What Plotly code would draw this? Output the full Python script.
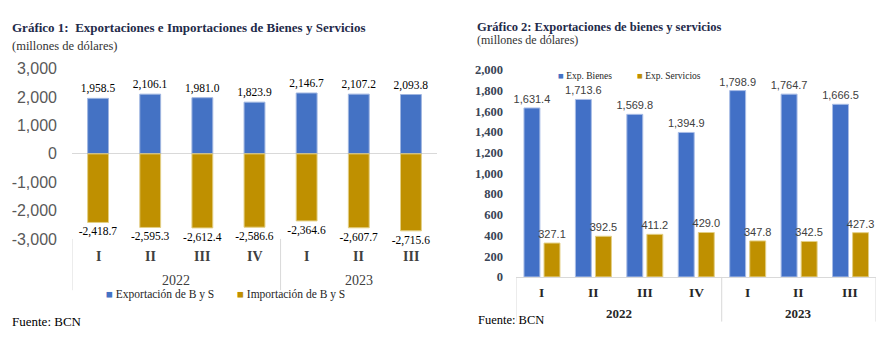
import plotly.graph_objects as go

# ---------------- data ----------------
quarters = ["I", "II", "III", "IV", "I", "II", "III"]
years = ["2022", "2023"]
quarters_per_year = [4, 3]

exports_bs = [1958.5, 2106.1, 1981.0, 1823.9, 2146.7, 2107.2, 2093.8]
imports_bs = [-2418.7, -2595.3, -2612.4, -2586.6, -2364.6, -2607.7, -2715.6]

exp_bienes = [1631.4, 1713.6, 1569.8, 1394.9, 1798.9, 1764.7, 1666.5]
exp_servicios = [327.1, 392.5, 411.2, 429.0, 347.8, 342.5, 427.3]

left_ticks = [-3000, -2000, -1000, 0, 1000, 2000, 3000]
right_ticks = [0, 200, 400, 600, 800, 1000, 1200, 1400, 1600, 1800, 2000]

names_left = ["Exportación de B y S", "Importación de B y S"]
names_right = ["Exp. Bienes", "Exp. Servicios"]

# ---------------- styles ----------------
W, H = 892, 342
BLUE = "#4472C4"
GOLD = "#BF9000"
BLUE_R = "#4270C6"
SERIF = "Liberation Serif"
SANS = "Liberation Sans"
NAVY = "#1f2b4a"


def px(x):
    return x / W


def py(y):
    return 1 - y / H


idx = list(range(len(quarters)))


def fmt(v):
    return f"{v:,.1f}"


fig = go.Figure()

# left chart
fig.add_trace(go.Bar(
    x=idx, y=exports_bs, name=names_left[0], xaxis="x", yaxis="y",
    marker=dict(color=BLUE, line=dict(color="#9fb5e0", width=1)),
    width=0.4, offset=-0.2,
    text=[fmt(v) for v in exports_bs], textposition="outside",
    textfont=dict(family=SERIF, size=11.5, color="#000000"),
    cliponaxis=False, constraintext="none", showlegend=False, hoverinfo="skip",
))
fig.add_trace(go.Bar(
    x=idx, y=imports_bs, name=names_left[1], xaxis="x", yaxis="y",
    marker=dict(color=GOLD, line=dict(color="#e3cf85", width=1)),
    width=0.4, offset=-0.2,
    text=[fmt(v) for v in imports_bs], textposition="outside",
    textfont=dict(family=SERIF, size=11.5, color="#000000"),
    cliponaxis=False, constraintext="none", showlegend=False, hoverinfo="skip",
))

# right chart
fig.add_trace(go.Bar(
    x=idx, y=exp_bienes, name=names_right[0], xaxis="x2", yaxis="y2",
    marker=dict(color=BLUE_R, line=dict(color="#a9bde6", width=1)),
    width=0.31, offset=-0.345,
    text=[fmt(v) for v in exp_bienes], textposition="outside",
    textfont=dict(family=SANS, size=11, color="#404040"),
    cliponaxis=False, constraintext="none", showlegend=False, hoverinfo="skip",
))
fig.add_trace(go.Bar(
    x=idx, y=exp_servicios, name=names_right[1], xaxis="x2", yaxis="y2",
    marker=dict(color=GOLD, line=dict(color="#e3cf85", width=1)),
    width=0.31, offset=0.045,
    text=[fmt(v) for v in exp_servicios], textposition="outside",
    textfont=dict(family=SANS, size=11, color="#404040"),
    cliponaxis=False, constraintext="none", showlegend=False, hoverinfo="skip",
))

annotations = []
shapes = []

# titles
annotations += [
    dict(text="<b>Gráfico 1:  Exportaciones e Importaciones de Bienes y Servicios</b>",
         x=px(10), y=py(20), xanchor="left", yanchor="middle",
         font=dict(family=SERIF, size=13, color=NAVY)),
    dict(text="(millones de dólares)", x=px(10), y=py(40), xanchor="left", yanchor="middle",
         font=dict(family=SERIF, size=12.5, color="#333333")),
    dict(text="<b>Gráfico 2: Exportaciones de bienes y servicios</b>",
         x=px(475), y=py(20), xanchor="left", yanchor="middle",
         font=dict(family=SERIF, size=12.5, color=NAVY)),
    dict(text="(millones de dólares)", x=px(475), y=py(34), xanchor="left", yanchor="middle",
         font=dict(family=SERIF, size=12, color="#333333")),
    dict(text="Fuente: BCN", x=px(10), y=py(330), xanchor="left", yanchor="middle",
         font=dict(family=SERIF, size=13, color="#000000")),
    dict(text="Fuente: BCN", x=px(476), y=py(328), xanchor="left", yanchor="middle",
         font=dict(family=SERIF, size=12.5, color="#000000")),
]

# legends (as text)
annotations += [
    dict(text=f"<span style='color:{BLUE}'>■</span> {names_left[0]}", x=px(104), y=py(302),
         xanchor="left", yanchor="middle", font=dict(family=SERIF, size=11.5, color="#262626")),
    dict(text=f"<span style='color:{GOLD}'>■</span> {names_left[1]}", x=px(235), y=py(302),
         xanchor="left", yanchor="middle", font=dict(family=SERIF, size=11.5, color="#262626")),
    dict(text=f"<span style='color:{BLUE}'>■</span> {names_right[0]}", x=px(556), y=py(72),
         xanchor="left", yanchor="middle", font=dict(family=SERIF, size=9.5, color="#262626")),
    dict(text=f"<span style='color:{GOLD}'>■</span> {names_right[1]}", x=px(635), y=py(72),
         xanchor="left", yanchor="middle", font=dict(family=SERIF, size=9.5, color="#262626")),
]

# category labels
for i, q in enumerate(quarters):
    annotations.append(dict(text=f"<b>{q}</b>", x=i, xref="x", y=py(262), yref="paper",
                            yanchor="middle", showarrow=False,
                            font=dict(family=SERIF, size=14, color="#404040")))
    annotations.append(dict(text=f"<b>{q}</b>", x=i, xref="x2", y=py(299), yref="paper",
                            yanchor="middle", showarrow=False,
                            font=dict(family=SERIF, size=13.5, color="#262626")))

start = 0
bounds = [-0.5]
for yr, n in zip(years, quarters_per_year):
    c = start + (n - 1) / 2
    annotations.append(dict(text=yr, x=c, xref="x", y=py(287), yref="paper",
                            yanchor="middle", showarrow=False,
                            font=dict(family=SERIF, size=14, color="#404040")))
    annotations.append(dict(text=f"<b>{yr}</b>", x=c, xref="x2", y=py(322), yref="paper",
                            yanchor="middle", showarrow=False,
                            font=dict(family=SERIF, size=13, color="#262626")))
    start += n
    bounds.append(start - 0.5)

for b in bounds[:-1]:
    shapes.append(dict(type="line", xref="x", yref="paper", x0=b, x1=b,
                       y0=py(243), y1=py(297), line=dict(color="#d9d9d9", width=1)))
for b in bounds:
    shapes.append(dict(type="line", xref="x2", yref="paper", x0=b, x1=b,
                       y0=py(283), y1=py(330), line=dict(color="#d9d9d9", width=1)))

for a in annotations:
    a.setdefault("xref", "paper")
    a.setdefault("yref", "paper")
    a.setdefault("showarrow", False)

fig.update_layout(
    width=W, height=H,
    margin=dict(l=0, r=0, t=0, b=0),
    paper_bgcolor="white", plot_bgcolor="white",
    barmode="overlay",
    showlegend=False,
    xaxis=dict(domain=[px(72), px(437)], range=[-0.5, 6.5], showticklabels=False,
               showgrid=False, zeroline=False, showline=False, ticks=""),
    yaxis=dict(domain=[py(243), py(64)], range=[-3000, 3000], tickvals=left_ticks,
               ticktext=[f"{v:,}" for v in left_ticks], showgrid=False,
               zeroline=True, zerolinecolor="#d9d9d9", zerolinewidth=1,
               tickfont=dict(family=SANS, size=16, color="#595959"), ticks="",
               ticklabelstandoff=14),
    xaxis2=dict(domain=[px(516), px(876)], range=[-0.5, 6.5], anchor="y2",
                showticklabels=False, showgrid=False, zeroline=False,
                showline=True, linecolor="#d9d9d9", linewidth=1, ticks=""),
    yaxis2=dict(domain=[py(283), py(65)], range=[0, 2000], anchor="x2",
                tickvals=right_ticks, ticktext=[f"{v:,}" for v in right_ticks],
                showgrid=False, zeroline=False, showline=False, ticks="",
                tickfont=dict(family=SERIF, size=12.5, color="#3a4556", weight="bold"),
                ticklabelstandoff=12),
    annotations=annotations,
    shapes=shapes,
)

fig.write_html("out.html")
